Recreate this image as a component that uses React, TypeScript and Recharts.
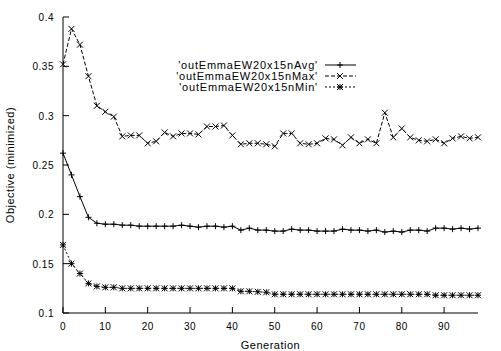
import React from "react";
import { LineChart, Line, XAxis, YAxis } from "recharts";

const generations = [
  0, 2, 4, 6, 8, 10, 12, 14, 16, 18, 20, 22, 24, 26, 28, 30, 32, 34, 36, 38, 40, 42, 44, 46, 48,
  50, 52, 54, 56, 58, 60, 62, 64, 66, 68, 70, 72, 74, 76, 78, 80, 82, 84, 86, 88, 90, 92, 94, 96, 98,
];

const avgValues = [
  0.262, 0.24, 0.218, 0.197, 0.191, 0.19, 0.19, 0.189, 0.189, 0.188,
  0.188, 0.188, 0.188, 0.188, 0.189, 0.188, 0.187, 0.188, 0.188, 0.187,
  0.188, 0.184, 0.186, 0.184, 0.184, 0.183, 0.183, 0.185, 0.184, 0.184,
  0.183, 0.183, 0.183, 0.185, 0.184, 0.184, 0.183, 0.184, 0.182, 0.183,
  0.182, 0.184, 0.184, 0.183, 0.186, 0.186, 0.185, 0.186, 0.185, 0.186,
];

const maxValues = [
  0.352, 0.388, 0.372, 0.34, 0.31, 0.304, 0.299, 0.279, 0.28, 0.28,
  0.272, 0.274, 0.283, 0.279, 0.282, 0.282, 0.281, 0.289, 0.289, 0.29,
  0.28, 0.271, 0.272, 0.272, 0.271, 0.269, 0.282, 0.282, 0.272, 0.271,
  0.272, 0.277, 0.276, 0.27, 0.278, 0.272, 0.276, 0.272, 0.303, 0.278,
  0.287, 0.278, 0.275, 0.274, 0.276, 0.272, 0.277, 0.279, 0.277, 0.278,
];

const minValues = [
  0.169, 0.15, 0.14, 0.13, 0.127, 0.126, 0.126, 0.125, 0.125, 0.125,
  0.125, 0.125, 0.125, 0.125, 0.125, 0.125, 0.125, 0.125, 0.125, 0.125,
  0.125, 0.122, 0.122, 0.1215, 0.121, 0.119, 0.119, 0.119, 0.119, 0.119,
  0.119, 0.119, 0.119, 0.119, 0.119, 0.119, 0.119, 0.119, 0.119, 0.119,
  0.119, 0.119, 0.119, 0.119, 0.118, 0.118, 0.118, 0.118, 0.118, 0.118,
];

const xTicks = [0, 10, 20, 30, 40, 50, 60, 70, 80, 90];
const yTicks = [0.1, 0.15, 0.2, 0.25, 0.3, 0.35, 0.4];

const seriesNames = ["'outEmmaEW20x15nAvg'", "'outEmmaEW20x15nMax'", "'outEmmaEW20x15nMin'"];

const data = generations.map((g, i) => ({
  gen: g,
  avg: avgValues[i],
  max: maxValues[i],
  min: minValues[i],
}));

const FONT = "'Liberation Sans', Arial, sans-serif";
const TICK = 6;

type Shape = "plus" | "cross" | "star";

function Marker({ cx, cy, shape }: { cx: number; cy: number; shape: Shape }) {
  const r = 3;
  const plus = `M${cx - r},${cy}L${cx + r},${cy}M${cx},${cy - r}L${cx},${cy + r}`;
  const cross = `M${cx - r},${cy - r}L${cx + r},${cy + r}M${cx - r},${cy + r}L${cx + r},${cy - r}`;
  const d = shape === "plus" ? plus : shape === "cross" ? cross : plus + cross;
  return <path d={d} stroke="#000" strokeWidth={1} fill="none" />;
}

const dot = (shape: Shape) => (p: any) => {
  if (p.cx == null || p.cy == null) return <g key={p.key} />;
  return <Marker key={p.key} cx={p.cx} cy={p.cy} shape={shape} />;
};

const BottomTick = (p: any) => (
  <g>
    <line x1={p.x} y1={p.y} x2={p.x} y2={p.y - TICK} stroke="#000" />
    <text x={p.x} y={p.y + 17} textAnchor="middle" fontSize={10} letterSpacing={0.5} fontFamily={FONT} fill="#000">
      {p.payload.value}
    </text>
  </g>
);

const TopTick = (p: any) => (
  <line x1={p.x} y1={p.y} x2={p.x} y2={p.y + TICK} stroke="#000" />
);

const LeftTick = (p: any) => (
  <g>
    <line x1={p.x} y1={p.y} x2={p.x + TICK} y2={p.y} stroke="#000" />
    <text x={p.x - 9} y={p.y + 4} textAnchor="end" fontSize={10} letterSpacing={0.5} fontFamily={FONT} fill="#000">
      {String(p.payload.value)}
    </text>
  </g>
);

const RightTick = (p: any) => (
  <line x1={p.x} y1={p.y} x2={p.x - TICK} y2={p.y} stroke="#000" />
);

const legendStyles: { shape: Shape; dash?: string }[] = [
  { shape: "plus" },
  { shape: "cross", dash: "4 2" },
  { shape: "star", dash: "2 2" },
];

function LegendBox() {
  return (
    <svg width={200} height={40} style={{ position: "absolute", left: 160, top: 59 }}>
      {seriesNames.map((name, i) => {
        const y = 6 + i * 11;
        return (
          <g key={name}>
            <text x={158} y={y + 4} textAnchor="end" fontSize={11} letterSpacing={0.8} fontFamily={FONT} fill="#000">
              {name}
            </text>
            <line x1={165} y1={y} x2={196} y2={y} stroke="#000" strokeDasharray={legendStyles[i].dash} />
            <Marker cx={180} cy={y} shape={legendStyles[i].shape} />
          </g>
        );
      })}
    </svg>
  );
}

export default function App() {
  return (
    <div style={{ position: "absolute", left: 0, top: 0, width: 501, height: 351, background: "#fff" }}>
      <LineChart width={501} height={351} data={data} margin={{ top: 17, right: 23, left: 0, bottom: 0 }}>
        <XAxis
          dataKey="gen"
          type="number"
          domain={[0, 98]}
          ticks={xTicks}
          height={38}
          tickLine={false}
          tickSize={0}
          tickMargin={0}
          stroke="#000"
          tick={BottomTick}
          label={(props: any) => {
            const vb = props.viewBox;
            return (
              <text x={vb.x + vb.width / 2} y={vb.y + 36} textAnchor="middle" fontSize={11} letterSpacing={0.5} fontFamily={FONT} fill="#000">
                Generation
              </text>
            );
          }}
        />
        <XAxis
          xAxisId="top"
          orientation="top"
          dataKey="gen"
          type="number"
          domain={[0, 98]}
          ticks={xTicks}
          height={0}
          tickLine={false}
          tickSize={0}
          tickMargin={0}
          stroke="#000"
          tick={TopTick}
        />
        <YAxis
          type="number"
          domain={[0.1, 0.4]}
          ticks={yTicks}
          width={63}
          tickLine={false}
          tickSize={0}
          tickMargin={0}
          stroke="#000"
          tick={LeftTick}
          label={(props: any) => {
            const vb = props.viewBox;
            const cx = 11;
            const cy = vb.y + vb.height / 2;
            return (
              <text x={cx} y={cy} transform={`rotate(-90 ${cx} ${cy})`} textAnchor="middle" dominantBaseline="middle" fontSize={11} letterSpacing={0.5} fontFamily={FONT} fill="#000">
                Objective (minimized)
              </text>
            );
          }}
        />
        <YAxis
          yAxisId="right"
          orientation="right"
          type="number"
          domain={[0.1, 0.4]}
          ticks={yTicks}
          width={0}
          tickLine={false}
          tickSize={0}
          tickMargin={0}
          stroke="#000"
          tick={RightTick}
        />
        <Line
          type="linear"
          dataKey="avg"
          stroke="#000"
          strokeWidth={1}
          dot={dot("plus")}
          activeDot={false}
          isAnimationActive={false}
        />
        <Line
          type="linear"
          dataKey="max"
          stroke="#000"
          strokeWidth={1}
          strokeDasharray="4 2"
          dot={dot("cross")}
          activeDot={false}
          isAnimationActive={false}
        />
        <Line
          type="linear"
          dataKey="min"
          xAxisId="top"
          yAxisId="right"
          stroke="#000"
          strokeWidth={1}
          strokeDasharray="2 2"
          dot={dot("star")}
          activeDot={false}
          isAnimationActive={false}
        />
      </LineChart>
      <LegendBox />
    </div>
  );
}
